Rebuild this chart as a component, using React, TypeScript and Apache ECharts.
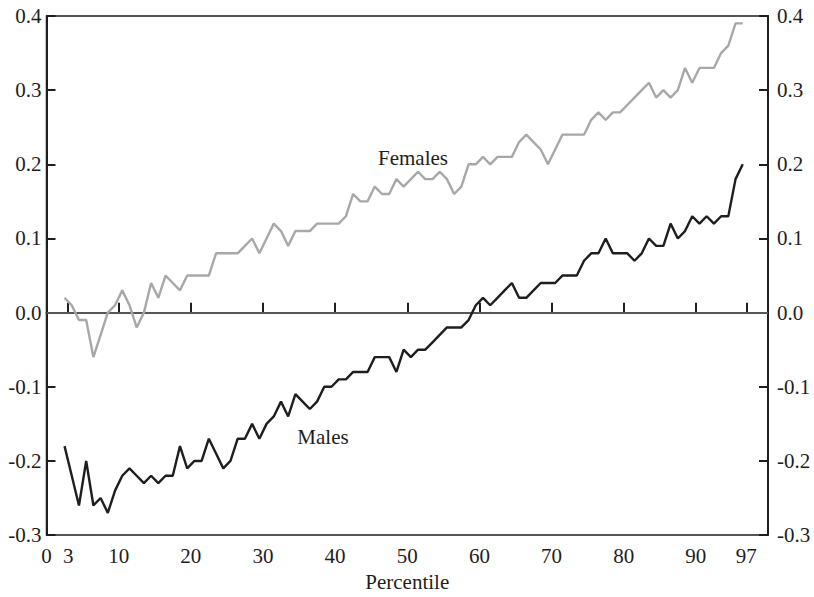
import React, { useEffect, useRef } from "react";
import * as echarts from "echarts";

const percentiles: number[] = Array.from({ length: 95 }, (_, i) => i + 3);

const females: number[] = [
  0.02, 0.01, -0.01, -0.01, -0.06, -0.03, 0.0, 0.01, 0.03, 0.01,
  -0.02, 0.0, 0.04, 0.02, 0.05, 0.04, 0.03, 0.05, 0.05, 0.05,
  0.05, 0.08, 0.08, 0.08, 0.08, 0.09, 0.1, 0.08, 0.1, 0.12,
  0.11, 0.09, 0.11, 0.11, 0.11, 0.12, 0.12, 0.12, 0.12, 0.13,
  0.16, 0.15, 0.15, 0.17, 0.16, 0.16, 0.18, 0.17, 0.18, 0.19,
  0.18, 0.18, 0.19, 0.18, 0.16, 0.17, 0.2, 0.2, 0.21, 0.2,
  0.21, 0.21, 0.21, 0.23, 0.24, 0.23, 0.22, 0.2, 0.22, 0.24,
  0.24, 0.24, 0.24, 0.26, 0.27, 0.26, 0.27, 0.27, 0.28, 0.29,
  0.3, 0.31, 0.29, 0.3, 0.29, 0.3, 0.33, 0.31, 0.33, 0.33,
  0.33, 0.35, 0.36, 0.39, 0.39,
];

const males: number[] = [
  -0.18, -0.22, -0.26, -0.2, -0.26, -0.25, -0.27, -0.24, -0.22, -0.21,
  -0.22, -0.23, -0.22, -0.23, -0.22, -0.22, -0.18, -0.21, -0.2, -0.2,
  -0.17, -0.19, -0.21, -0.2, -0.17, -0.17, -0.15, -0.17, -0.15, -0.14,
  -0.12, -0.14, -0.11, -0.12, -0.13, -0.12, -0.1, -0.1, -0.09, -0.09,
  -0.08, -0.08, -0.08, -0.06, -0.06, -0.06, -0.08, -0.05, -0.06, -0.05,
  -0.05, -0.04, -0.03, -0.02, -0.02, -0.02, -0.01, 0.01, 0.02, 0.01,
  0.02, 0.03, 0.04, 0.02, 0.02, 0.03, 0.04, 0.04, 0.04, 0.05,
  0.05, 0.05, 0.07, 0.08, 0.08, 0.1, 0.08, 0.08, 0.08, 0.07,
  0.08, 0.1, 0.09, 0.09, 0.12, 0.1, 0.11, 0.13, 0.12, 0.13,
  0.12, 0.13, 0.13, 0.18, 0.2,
];

const xLabelValues: number[] = [0, 3, 10, 20, 30, 40, 50, 60, 70, 80, 90, 97];
const xTickValues: number[] = [3, 10, 20, 30, 40, 50, 60, 70, 80, 90, 97];

const FONT = '"Liberation Serif", "Times New Roman", "DejaVu Serif", serif';
const INK = "#1e1e1e";
const FS = 21;

export default function App() {
  const ref = useRef<HTMLDivElement>(null);

  useEffect(() => {
    if (!ref.current) return;
    const chart = echarts.init(ref.current, undefined, { renderer: "svg" });

    const yAxisBase = (position: "left" | "right", margin: number) => ({
      type: "value" as const,
      position,
      min: -0.3,
      max: 0.4,
      interval: 0.1,
      axisLine: { show: true, lineStyle: { color: INK, width: 2 } },
      axisTick: { show: true, inside: true, length: 9, lineStyle: { color: INK, width: 2 } },
      axisLabel: {
        color: INK,
        fontFamily: FONT,
        fontSize: FS,
        margin,
        formatter: (v: number) => v.toFixed(1),
      },
      splitLine: { show: false },
    });

    chart.setOption({
      animation: false,
      backgroundColor: "#ffffff",
      grid: {
        left: 46.5,
        right: 46,
        top: 16,
        bottom: 60,
        show: true,
        borderColor: INK,
        borderWidth: 1.5,
        backgroundColor: "transparent",
      },
      xAxis: [
        {
          type: "value",
          min: 0,
          max: 100,
          position: "bottom",
          name: "Percentile",
          nameLocation: "middle",
          nameGap: 34,
          nameTextStyle: { color: INK, fontFamily: FONT, fontSize: FS },
          axisLine: { show: true, lineStyle: { color: INK, width: 2 } },
          axisTick: {
            show: true,
            inside: true,
            length: 10,
            customValues: xTickValues,
            lineStyle: { color: INK, width: 2 },
          },
          axisLabel: {
            color: INK,
            fontFamily: FONT,
            fontSize: FS,
            margin: 10,
            customValues: xLabelValues,
            showMinLabel: true,
            showMaxLabel: true,
          },
          splitLine: { show: false },
        },
        {
          type: "value",
          show: false,
          min: 0.5,
          max: 100.5,
          position: "bottom",
        },
      ],
      yAxis: [yAxisBase("left", 5), yAxisBase("right", 9)],
      series: [
        {
          name: "Females",
          type: "line",
          xAxisIndex: 1,
          yAxisIndex: 0,
          data: percentiles.map((p, i) => [p, females[i]]),
          showSymbol: false,
          symbol: "none",
          lineStyle: { color: "#a8a8a8", width: 2.4 },
          z: 3,
          markLine: {
            silent: true,
            symbol: "none",
            label: { show: false },
            lineStyle: { color: "#6a6a6a", width: 1.5, type: "solid" },
            data: [{ yAxis: 0 }],
            z: 1,
          },
        },
        {
          name: "Males",
          type: "line",
          xAxisIndex: 1,
          yAxisIndex: 0,
          data: percentiles.map((p, i) => [p, males[i]]),
          showSymbol: false,
          symbol: "none",
          lineStyle: { color: "#1e1e1e", width: 2.4 },
          z: 4,
        },
      ],
      graphic: [
        {
          type: "text",
          x: 413,
          y: 158,
          style: {
            text: "Females",
            fill: INK,
            font: `${FS}px ${FONT}`,
            align: "center",
            verticalAlign: "middle",
          },
        },
        {
          type: "text",
          x: 323,
          y: 437,
          style: {
            text: "Males",
            fill: INK,
            font: `${FS}px ${FONT}`,
            align: "center",
            verticalAlign: "middle",
          },
        },
      ],
    });

    return () => chart.dispose();
  }, []);

  return (
    <div
      ref={ref}
      style={{ position: "fixed", left: 0, top: 0, width: 814, height: 597 }}
    />
  );
}
